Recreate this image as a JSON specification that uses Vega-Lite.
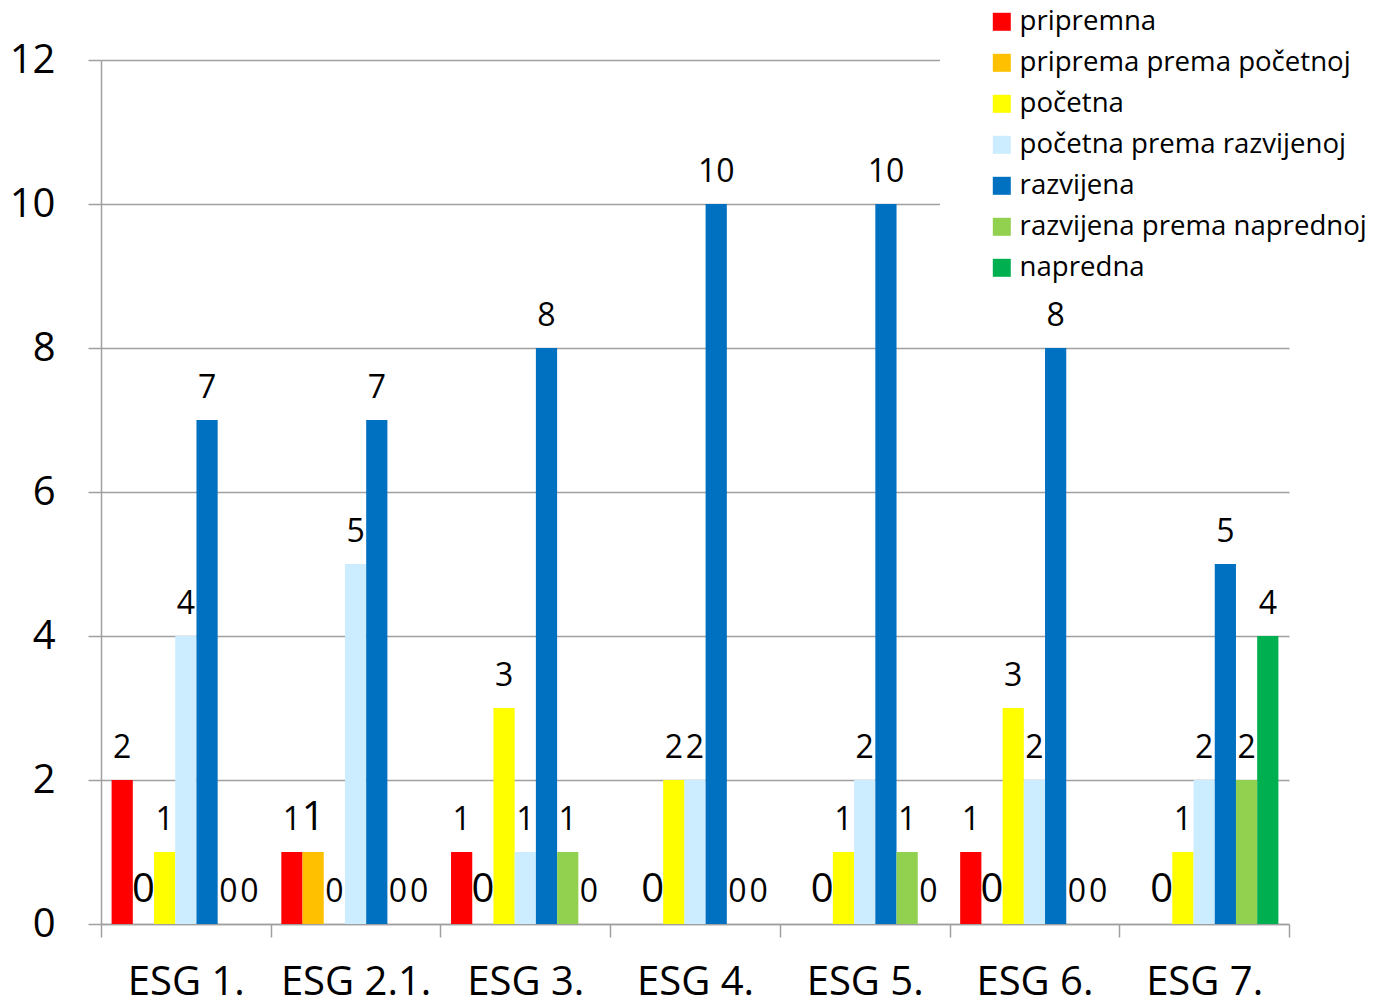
{
  "$schema": "https://vega.github.io/schema/vega-lite/v6.json",
  "width": 1188,
  "height": 864,
  "autosize": {"type": "none"},
  "padding": {"left": 101, "top": 60, "right": 85, "bottom": 81},
  "background": "white",
  "config": {
    "font": "Open Sans",
    "view": {"stroke": null}
  },
  "data": {
    "values": [
      {"group": "ESG 1.", "series": "pripremna", "value": 2},
      {"group": "ESG 1.", "series": "priprema prema početnoj", "value": 0},
      {"group": "ESG 1.", "series": "početna", "value": 1},
      {"group": "ESG 1.", "series": "početna prema razvijenoj", "value": 4},
      {"group": "ESG 1.", "series": "razvijena", "value": 7},
      {"group": "ESG 1.", "series": "razvijena prema naprednoj", "value": 0},
      {"group": "ESG 1.", "series": "napredna", "value": 0},
      {"group": "ESG 2.1.", "series": "pripremna", "value": 1},
      {"group": "ESG 2.1.", "series": "priprema prema početnoj", "value": 1},
      {"group": "ESG 2.1.", "series": "početna", "value": 0},
      {"group": "ESG 2.1.", "series": "početna prema razvijenoj", "value": 5},
      {"group": "ESG 2.1.", "series": "razvijena", "value": 7},
      {"group": "ESG 2.1.", "series": "razvijena prema naprednoj", "value": 0},
      {"group": "ESG 2.1.", "series": "napredna", "value": 0},
      {"group": "ESG 3.", "series": "pripremna", "value": 1},
      {"group": "ESG 3.", "series": "priprema prema početnoj", "value": 0},
      {"group": "ESG 3.", "series": "početna", "value": 3},
      {"group": "ESG 3.", "series": "početna prema razvijenoj", "value": 1},
      {"group": "ESG 3.", "series": "razvijena", "value": 8},
      {"group": "ESG 3.", "series": "razvijena prema naprednoj", "value": 1},
      {"group": "ESG 3.", "series": "napredna", "value": 0},
      {"group": "ESG 4.", "series": "pripremna", "value": 0},
      {"group": "ESG 4.", "series": "priprema prema početnoj", "value": 0},
      {"group": "ESG 4.", "series": "početna", "value": 2},
      {"group": "ESG 4.", "series": "početna prema razvijenoj", "value": 2},
      {"group": "ESG 4.", "series": "razvijena", "value": 10},
      {"group": "ESG 4.", "series": "razvijena prema naprednoj", "value": 0},
      {"group": "ESG 4.", "series": "napredna", "value": 0},
      {"group": "ESG 5.", "series": "pripremna", "value": 0},
      {"group": "ESG 5.", "series": "priprema prema početnoj", "value": 0},
      {"group": "ESG 5.", "series": "početna", "value": 1},
      {"group": "ESG 5.", "series": "početna prema razvijenoj", "value": 2},
      {"group": "ESG 5.", "series": "razvijena", "value": 10},
      {"group": "ESG 5.", "series": "razvijena prema naprednoj", "value": 1},
      {"group": "ESG 5.", "series": "napredna", "value": 0},
      {"group": "ESG 6.", "series": "pripremna", "value": 1},
      {"group": "ESG 6.", "series": "priprema prema početnoj", "value": 0},
      {"group": "ESG 6.", "series": "početna", "value": 3},
      {"group": "ESG 6.", "series": "početna prema razvijenoj", "value": 2},
      {"group": "ESG 6.", "series": "razvijena", "value": 8},
      {"group": "ESG 6.", "series": "razvijena prema naprednoj", "value": 0},
      {"group": "ESG 6.", "series": "napredna", "value": 0},
      {"group": "ESG 7.", "series": "pripremna", "value": 0},
      {"group": "ESG 7.", "series": "priprema prema početnoj", "value": 0},
      {"group": "ESG 7.", "series": "početna", "value": 1},
      {"group": "ESG 7.", "series": "početna prema razvijenoj", "value": 2},
      {"group": "ESG 7.", "series": "razvijena", "value": 5},
      {"group": "ESG 7.", "series": "razvijena prema naprednoj", "value": 2},
      {"group": "ESG 7.", "series": "napredna", "value": 4}
    ]
  },
  "encoding": {
    "x": {
      "field": "group",
      "type": "nominal",
      "sort": null,
      "scale": {"paddingInner": 0, "paddingOuter": 0},
      "axis": {
        "title": null,
        "labelAngle": 0,
        "labelFontSize": 40,
        "labelColor": "black",
        "labelPadding": 25,
        "tickBand": "extent",
        "tickSize": 13,
        "tickColor": "#a0a0a0",
        "tickWidth": 1.5,
        "domainColor": "#a0a0a0",
        "domainWidth": 1.5,
        "grid": false
      }
    },
    "xOffset": {
      "field": "series",
      "type": "nominal",
      "sort": ["pripremna", "priprema prema početnoj", "početna", "početna prema razvijenoj", "razvijena", "razvijena prema naprednoj", "napredna"],
      "scale": {"paddingInner": 0, "paddingOuter": 0.5}
    },
    "y": {
      "field": "value",
      "type": "quantitative",
      "scale": {"domain": [0, 12], "nice": false},
      "axis": {
        "title": null,
        "values": [0, 2, 4, 6, 8, 10, 12],
        "labelFontSize": 40,
        "labelColor": "black",
        "labelPadding": 33,
        "tickSize": 13,
        "tickColor": "#a0a0a0",
        "tickWidth": 1.5,
        "domainColor": "#a0a0a0",
        "domainWidth": 1.5,
        "gridColor": "#a0a0a0",
        "gridWidth": 1.5,
        "gridOpacity": 1
      }
    }
  },
  "layer": [
    {
      "mark": {"type": "bar"},
      "encoding": {
        "color": {
          "field": "series",
          "type": "nominal",
          "sort": ["pripremna", "priprema prema početnoj", "početna", "početna prema razvijenoj", "razvijena", "razvijena prema naprednoj", "napredna"],
          "scale": {
            "domain": ["pripremna", "priprema prema početnoj", "početna", "početna prema razvijenoj", "razvijena", "razvijena prema naprednoj", "napredna"],
            "range": ["#FF0000", "#FFC000", "#FFFF00", "#CCECFF", "#0070C0", "#92D050", "#00B050"]
          },
          "legend": {
            "title": null,
            "orient": "none",
            "legendX": 839,
            "legendY": -68,
            "padding": 16,
            "fillColor": "white",
            "symbolType": "square",
            "symbolSize": 324,
            "symbolOffset": 32,
            "symbolStrokeWidth": 0,
            "labelFontSize": 27.6,
            "labelColor": "black",
            "labelOffset": 4,
            "rowPadding": 12,
            "labelLimit": 500
          }
        }
      }
    },
    {
      "transform": [{"filter": "datum.series !== 'pripremna' || datum.value > 0"}],
      "mark": {"type": "text", "baseline": "alphabetic", "dy": -22, "color": "black"},
      "encoding": {
        "text": {"field": "value", "type": "quantitative"},
        "size": {
          "condition": {"test": "datum.series === 'priprema prema početnoj'", "value": 40},
          "value": 32
        }
      }
    }
  ]
}
